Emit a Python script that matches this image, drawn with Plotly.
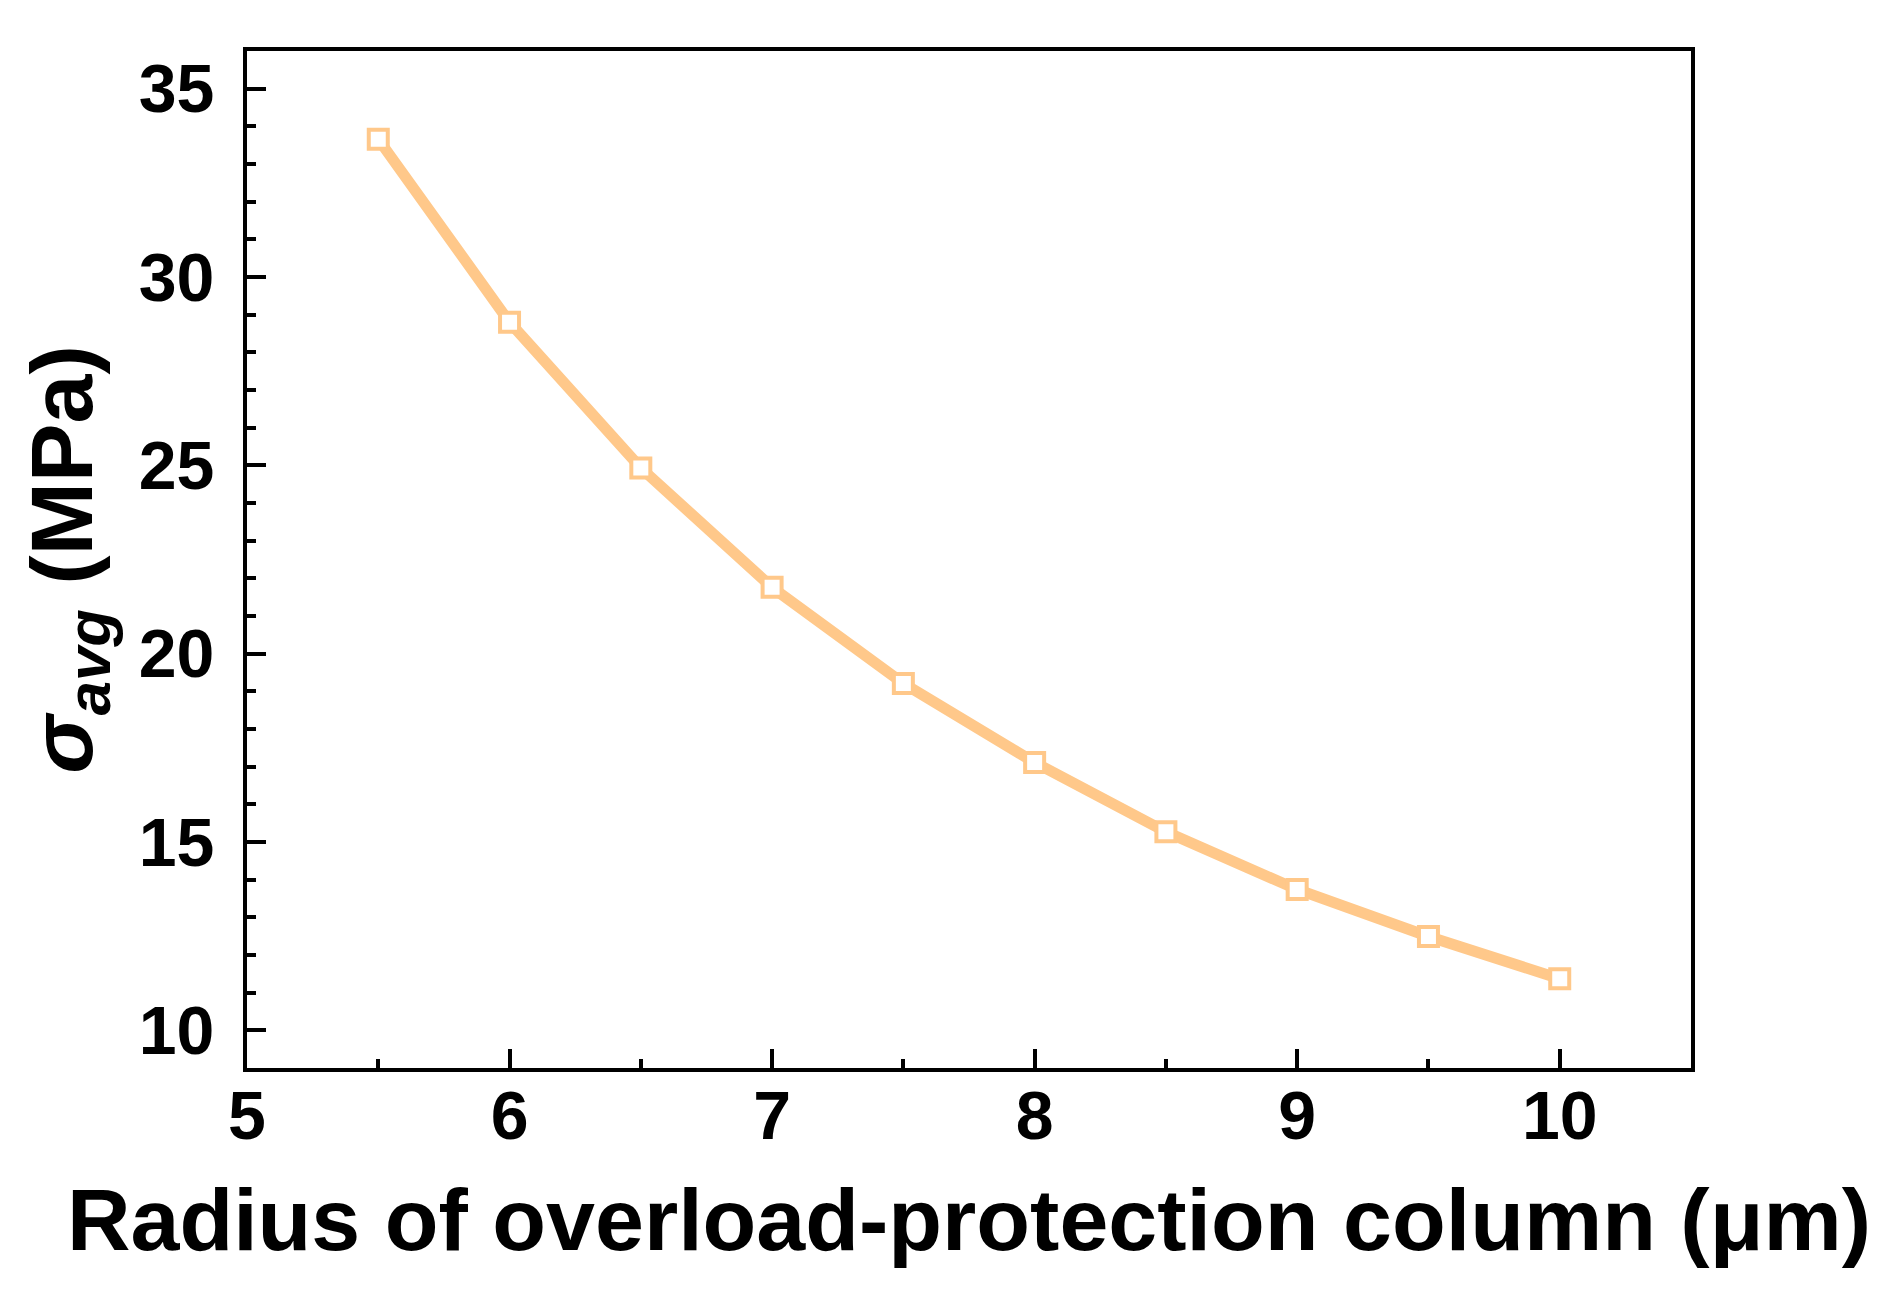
import plotly.graph_objects as go

radius_um = [5.5, 6.0, 6.5, 7.0, 7.5, 8.0, 8.5, 9.0, 9.5, 10.0]
sigma_avg_mpa = [33.66, 28.80, 24.93, 21.76, 19.21, 17.11, 15.27, 13.74, 12.49, 11.37]
x_tick_vals = [5, 6, 7, 8, 9, 10]
y_tick_vals = [10, 15, 20, 25, 30, 35]

ORANGE = "#FFC88A"
FONT = "Liberation Sans, Arial, sans-serif"

fig = go.Figure()
fig.add_trace(go.Scatter(
    x=radius_um, y=sigma_avg_mpa, mode="lines+markers",
    line=dict(color=ORANGE, width=11),
    marker=dict(symbol="square", size=19, color="white",
                line=dict(color=ORANGE, width=4)),
    showlegend=False,
))

axis_common = dict(
    showline=True, linecolor="black", linewidth=4, mirror=True,
    ticks="inside", tickcolor="black", tickwidth=4, ticklen=19,
    showgrid=False, zeroline=False,
    tickfont=dict(family=FONT, size=68, color="black", weight="bold"),
)

fig.update_xaxes(
    range=[5, 10.5], tickvals=x_tick_vals,
    minor=dict(ticks="inside", dtick=0.5, tick0=5, ticklen=9, tickwidth=4, tickcolor="black", showgrid=False),
    ticklabelstandoff=-15,
    title=dict(text="<b>Radius of overload-protection column (μm)</b>",
               font=dict(family=FONT, size=88, color="black"), standoff=38),
    **axis_common,
)
fig.update_yaxes(
    range=[9, 36], tickvals=y_tick_vals,
    minor=dict(ticks="inside", dtick=1, tick0=9, ticklen=9, tickwidth=4, tickcolor="black", showgrid=False),
    ticklabelstandoff=15,
    title=dict(text="<b><i>σ</i><sub><i>avg</i></sub> (MPa)</b>",
               font=dict(family=FONT, size=88, color="black"), standoff=18),
    **axis_common,
)

fig.update_layout(
    width=1889, height=1306,
    margin=dict(l=239, r=206, t=43, b=246),
    plot_bgcolor="white", paper_bgcolor="white",
)

fig.write_html("out.html")
